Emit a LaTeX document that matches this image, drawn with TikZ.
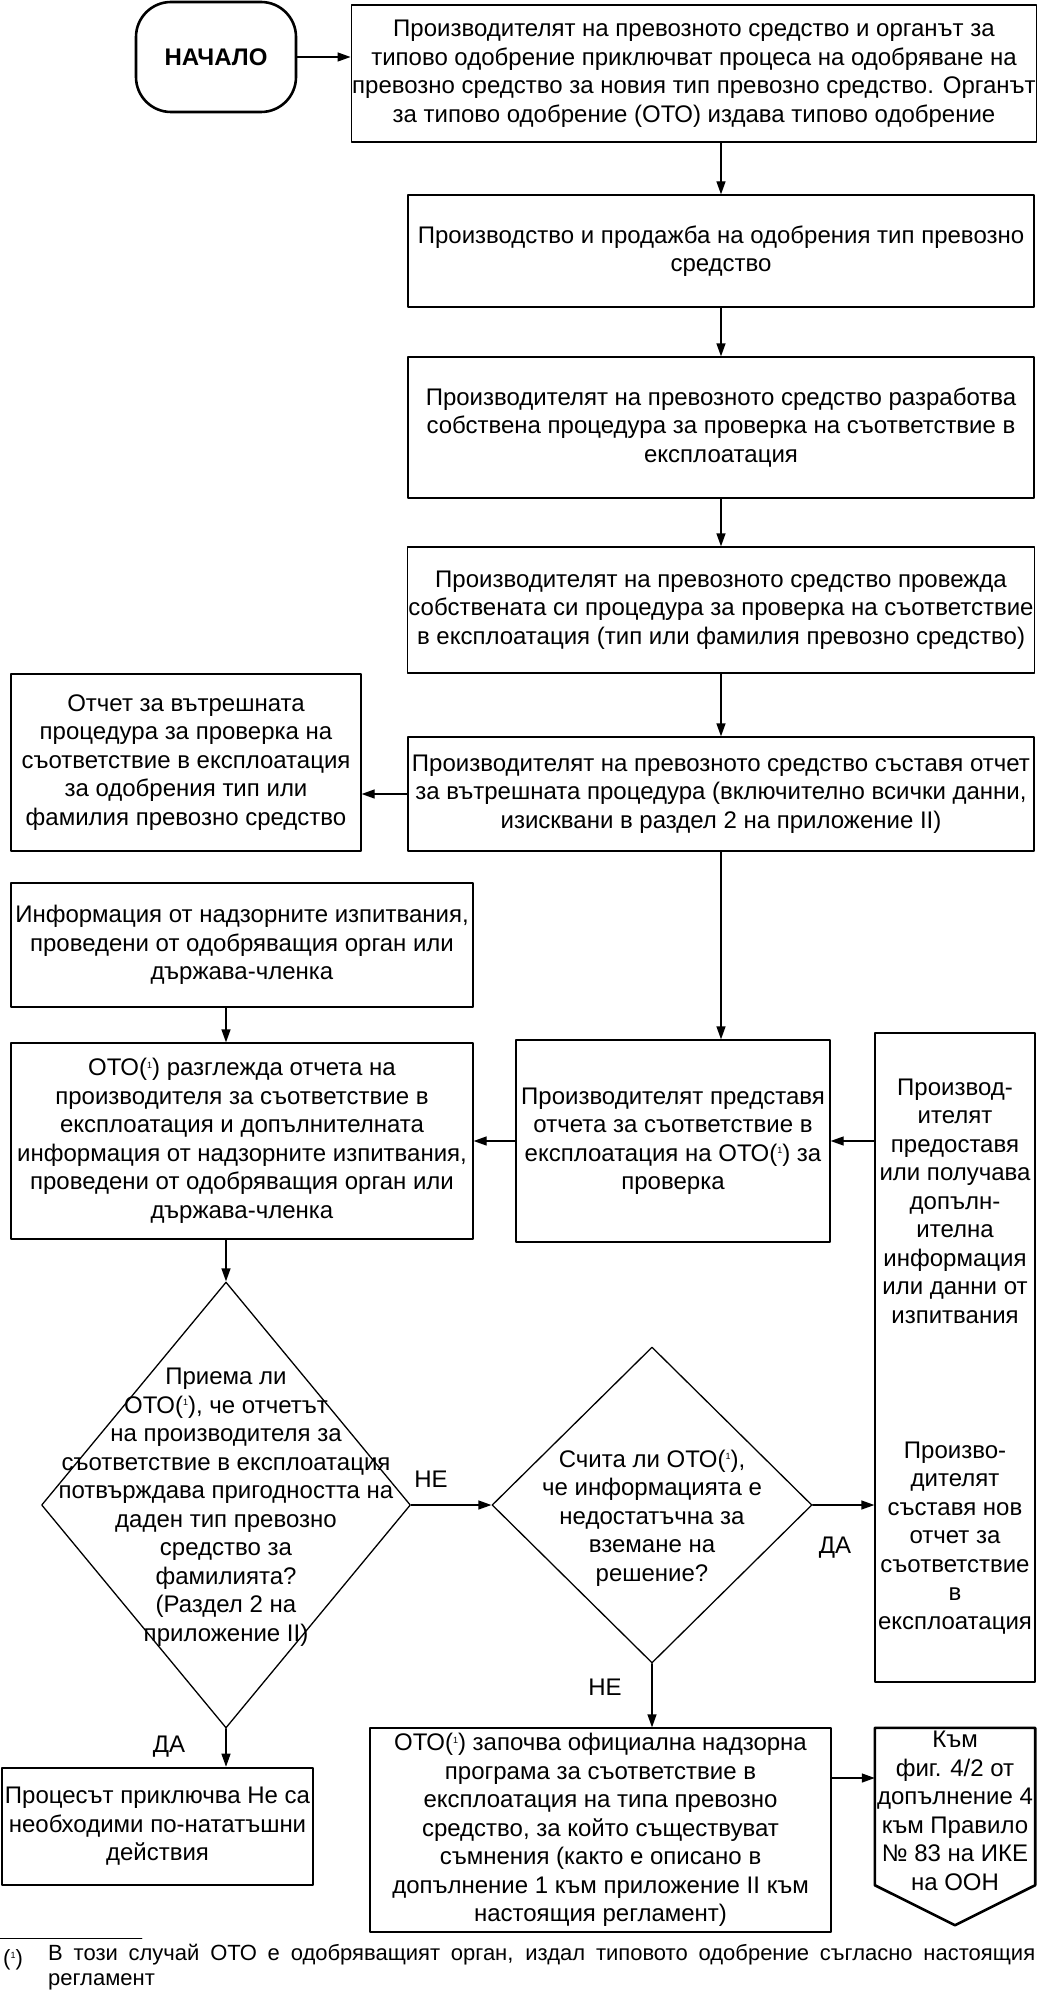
\documentclass[tikz,border=0pt]{standalone}
\usepackage{fontspec}
\setmainfont{Liberation Sans}
\usetikzlibrary{arrows.meta, positioning, calc, shapes.geometric}
\newcommand{\fnmk}{(\raisebox{0.6ex}{\fontsize{9}{9}\selectfont 1})}

\begin{document}
\begin{tikzpicture}[x=1pt, y=-1pt, >={Triangle[length=13pt,width=9pt]}, line cap=round, line join=round,
    every node/.style={font=\fontsize{24}{28.5}\selectfont},
    box/.style={draw, line width=1.3pt, align=center, inner sep=1pt},
    heavy/.style={draw, line width=2.6pt, align=center, inner sep=1pt},
    decision/.style={draw, diamond, line width=1.3pt, inner sep=0pt},
    txt/.style={align=center, inner sep=0pt},
    conn/.style={->, line width=1.3pt}]

    \useasboundingbox (0,0) rectangle (1038,1993);

    % Start
    \node[heavy, rounded corners=35pt, minimum width=160pt, minimum height=110pt,
          font=\fontsize{24}{28.5}\selectfont\bfseries] (start) at (216,57) {НАЧАЛО};

    % Main column
    \node[box, minimum width=682pt, minimum height=137pt] (b1) at (694,73.5)
        {Производителят на превозното средство и органът за\\
         типово одобрение приключват процеса на одобряване на\\
         превозно средство за новия тип превозно средство. Органът\\
         за типово одобрение (ОТО) издава типово одобрение};
    \node[box, minimum width=626pt, minimum height=112pt] (b2) at (721,251)
        {Производство и продажба на одобрения тип превозно\\
         средство};
    \node[box, minimum width=626pt, minimum height=141pt] (b3) at (721,427.5)
        {Производителят на превозното средство разработва\\
         собствена процедура за проверка на съответствие в\\
         експлоатация};
    \node[box, minimum width=626pt, minimum height=126pt] (b4) at (721,610)
        {Производителят на превозното средство провежда\\
         собствената си процедура за проверка на съответствие\\
         в експлоатация (тип или фамилия превозно средство)};
    \node[box, minimum width=626pt, minimum height=114pt] (b5) at (721,794)
        {Производителят на превозното средство съставя отчет\\
         за вътрешната процедура (включително всички данни,\\
         изисквани в раздел 2 на приложение II)};
    \node[box, minimum width=350pt, minimum height=177pt] (report) at (186,762.5)
        {Отчет за вътрешната\\
         процедура за проверка на\\
         съответствие в експлоатация\\
         за одобрения тип или\\
         фамилия превозно средство};

    % Review
    \node[box, minimum width=462pt, minimum height=124pt] (info) at (242,945)
        {Информация от надзорните изпитвания,\\
         проведени от одобряващия орган или\\
         държава-членка};
    \node[box, minimum width=462pt, minimum height=196pt] (review) at (242,1141)
        {ОТО\fnmk{} разглежда отчета на\\
         производителя за съответствие в\\
         експлоатация и допълнителната\\
         информация от надзорните изпитвания,\\
         проведени от одобряващия орган или\\
         държава-членка};
    \node[box, minimum width=314pt, minimum height=202pt] (submit) at (673,1141)
        {Производителят представя\\
         отчета за съответствие в\\
         експлоатация на ОТО\fnmk{} за\\
         проверка};
    \node[box, minimum width=160pt, minimum height=649pt] (side) at (955,1357.5) {};
    \node[txt] (sidetop) at (955,1201)
        {Производ-\\ителят\\предоставя\\или получава\\допълн-\\ителна\\информация\\или данни от\\изпитвания};
    \node[txt] (sidebot) at (955,1538)
        {Произво-\\дителят\\съставя нов\\отчет за\\съответствие\\в\\експлоатация};

    % Decisions
    \node[decision, minimum width=369pt, minimum height=446pt] (d1) at (226,1505) {};
    \node[txt] (d1text) at (226,1507)
        {Приема ли\\
         ОТО\fnmk, че отчетът\\
         на производителя за\\
         съответствие в експлоатация\\
         потвърждава пригодността на\\
         даден тип превозно\\
         средство за\\
         фамилията?\\
         (Раздел 2 на\\
         приложение II)};
    \node[decision, minimum width=320pt, minimum height=316pt] (d2) at (652,1505) {};
    \node[txt] (d2text) at (652,1518)
        {Счита ли ОТО\fnmk,\\
         че информацията е\\
         недостатъчна за\\
         вземане на\\
         решение?};

    % Outcomes
    \node[heavy, minimum width=311pt, minimum height=117pt] (stop) at (157.5,1826.5)
        {Процесът приключва Не са\\
         необходими по-нататъшни\\
         действия};
    \node[box, minimum width=461pt, minimum height=204pt] (prog) at (600.5,1830)
        {ОТО\fnmk{} започва официална надзорна\\
         програма за съответствие в\\
         експлоатация на типа превозно\\
         средство, за който съществуват\\
         съмнения (както е описано в\\
         допълнение 1 към приложение II към\\
         настоящия регламент)};
    \node[minimum width=160pt, minimum height=157pt, inner sep=0pt] (off) at (955,1806.5) {};
    \draw[line width=2.6pt] (off.north west) -- (off.north east) -- (off.south east)
        -- ($(off.south)+(0,40)$) -- (off.south west) -- cycle;
    \node[txt] (offtext) at (955,1811)
        {Към\\фиг. 4/2 от\\допълнение 4\\към Правило\\№ 83 на ИКЕ\\на ООН};

    % Labels
    \node (no1) at (431,1479) {НЕ};
    \node (yes2) at (835,1548) {ДА};
    \node (no2) at (605,1687) {НЕ};
    \node (yes1) at (169,1747) {ДА};

    % Arrows
    \draw[conn] (start.east) -- (b1.west |- start.east);
    \draw[conn] (b2.north |- b1.south) -- (b2.north);
    \draw[conn] (b2.south) -- (b3.north);
    \draw[conn] (b3.south) -- (b4.north);
    \draw[conn] (b4.south) -- (b5.north);
    \draw[conn] (b5.west) -- (report.east |- b5.west);
    \draw[conn] (b5.south) -- (b5.south |- submit.north);
    \draw[conn] (d1.north |- info.south) -- (d1.north |- review.north);
    \draw[conn] (side.west |- submit.east) -- (submit.east);
    \draw[conn] (submit.west) -- (review.east);
    \draw[conn] (d1.north |- review.south) -- (d1.north);
    \draw[conn] (d1.east) -- (d2.west);
    \draw[conn] (d2.east) -- (side.west |- d2.east);
    \draw[conn] (d2.south) -- (d2.south |- prog.north);
    \draw[conn] (d1.south) -- (d1.south |- stop.north);
    \coordinate (pout) at ([yshift=52pt]prog.east);
    \draw[conn] (pout) -- (pout -| off.west);

    % Footnote
    \draw[line width=0.8pt] (0,1938) -- (142,1938);
    \node[anchor=west, inner sep=0pt, font=\fontsize{22}{25}\selectfont] (fnmark) at (3,1960) {\fnmk};
    \node[anchor=north west, text width=987pt, align=justify, inner sep=0pt,
          font=\fontsize{22}{25}\selectfont] (fntext) at (48,1944)
        {В този случай ОТО е одобряващият орган, издал типовото одобрение съгласно настоящия регламент};

\end{tikzpicture}
\end{document}
